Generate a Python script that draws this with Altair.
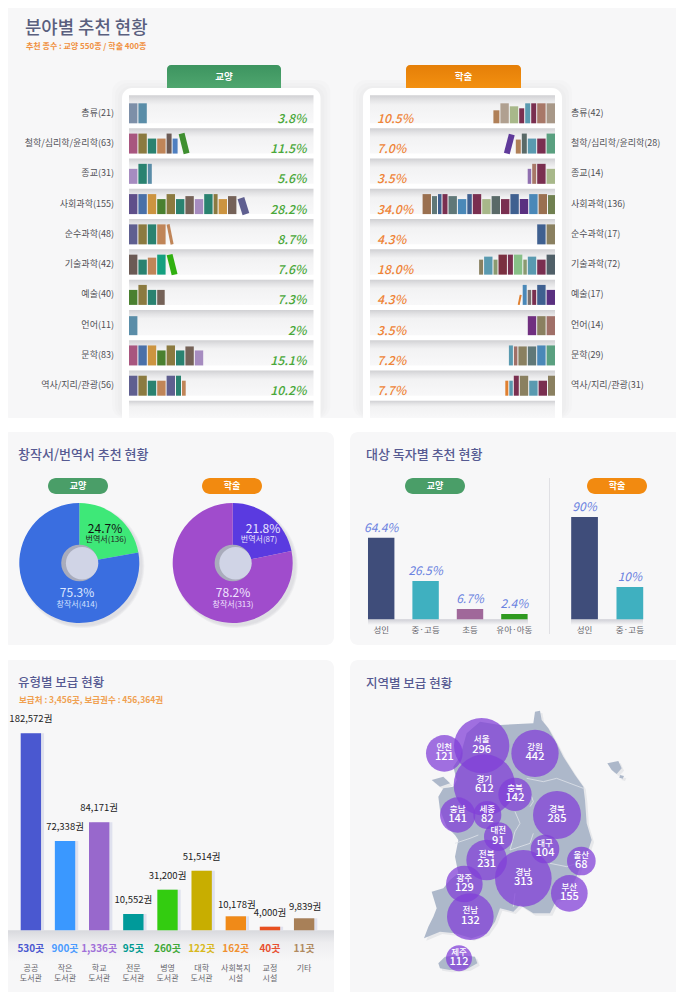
import pandas as pd
import altair as alt

FONT = "Noto Sans CJK KR"
PANEL = "#f7f7f8"
INK = "#4f4f55"
TITLE = "#565a92"
GREEN = "#4a9e68"
ORANGE = "#f28a10"

# book colours
MAUVE = "#a8567f"; SLATE = "#7d8fa8"; STEEL = "#5a8da8"; OLIVE = "#8b7a40"; TEAL = "#2a8270"
CLAY = "#c08558"; UMBER = "#6b5a55"; BLUE = "#4f7fc0"; LILAC = "#a68cc0"; INDIGO = "#5f4f8a"
NAVY = "#4a70a8"; AMBER = "#cc9440"; MOSS = "#4a8030"; TAUPE = "#756258"; DUSK = "#5f5f90"
JADE = "#14a080"; LEAF = "#3f8f30"; LIME = "#30b010"
WINE = "#7a2f50"; SAND = "#b0a090"; SAGE = "#a8b88a"; SKY = "#5a9ab0"; ROSE = "#a87868"
STONE = "#a89888"; TAN = "#b08058"; GRAPE = "#5f3a9a"; ASH = "#5a6a68"; MINT = "#5aa080"
PLUM = "#9070b0"; BARK = "#9a7050"; CADET = "#607878"; OCEAN = "#4a88b8"; DENIM = "#3f6090"
VIOLET = "#5a3080"; FERN = "#708050"; KHAKI = "#8a8060"; RUST = "#e08030"; BRICK = "#7a2f40"
PALE = "#88c088"; DRAB = "#8a9a70"; SMOKE = "#7a7070"; PURPLE = "#702f80"; CLAYPINK = "#a07068"
CHAR = "#506068"

T = 8.4  # usual spine
# (spine, height, colour[, lean]) per shelf, starting from the shelf's outer end
left_books = [
    [(T, 20, SLATE), (T, 20, STEEL)],
    [(T, 20, MAUVE), (T, 20, OLIVE), (T, 15, TEAL), (T, 15, CLAY), (5, 20, UMBER), (5, 15, BLUE), (6, 20, LEAF, 5)],
    [(T, 15, LILAC), (T, 20, TEAL), (4, 20, STEEL)],
    [(T, 20, INDIGO), (T, 20, NAVY), (T, 20, AMBER), (T, 15, MOSS), (T, 20, OLIVE), (T, 15, TEAL), (T, 18, TAUPE),
     (T, 15, LILAC), (T, 20, TEAL), (4, 20, OLIVE), (T, 15, AMBER), (T, 18, TAUPE), (7, 16, DUSK, 5)],
    [(T, 20, DUSK), (T, 20, OLIVE), (T, 20, TEAL), (T, 20, CLAY), (3, 20, CLAY, 4)],
    [(T, 20, UMBER), (T, 15, TEAL), (T, 17, CLAY), (T, 20, JADE), (6, 20, LIME, 5)],
    [(T, 15, MOSS), (T, 20, OLIVE), (T, 15, TEAL), (7.5, 15, TAUPE)],
    [(T, 19, STEEL)],
    [(T, 20, MAUVE), (T, 20, NAVY), (T, 20, AMBER), (T, 15, MOSS), (T, 20, OLIVE), (T, 15, TEAL), (T, 19, TAUPE), (T, 15, LILAC)],
    [(T, 20, DUSK), (T, 20, OLIVE), (T, 15, TEAL), (T, 15, CLAY), (T, 20, DUSK), (5, 20, TEAL), (3.7, 15, CLAY)],
]
right_books = [
    [(T, 20, STONE), (T, 20, ROSE), (5, 20, WINE), (5, 20, SKY), (5, 15, WINE), (T, 17, SAGE), (T, 20, SAND), (6, 13, TAN)],
    [(T, 20, MINT), (T, 15, WINE), (T, 15, SKY), (5, 20, ASH), (5, 14, TAN), (6, 19, GRAPE, 5)],
    [(T, 15, SAGE), (T, 20, WINE), (4, 20, ROSE), (3.5, 15, PLUM)],
    [(7, 19, FERN), (T, 20, BARK), (T, 20, OCEAN), (T, 15, VIOLET), (T, 20, DENIM), (T, 15, WINE), (T, 18, ASH),
     (T, 15, SAGE), (T, 20, WINE), (4.5, 20, DENIM), (T, 15, OCEAN), (T, 18, CADET), (5, 20, WINE), (3.5, 20, DENIM),
     (5, 18, CADET), (T, 20, BARK)],
    [(T, 20, KHAKI), (T, 20, DENIM)],
    [(T, 20, CHAR), (T, 15, WINE), (T, 18, SKY), (3.5, 15, DRAB), (T, 20, PALE), (5, 20, WINE), (T, 20, BRICK),
     (4, 15, DRAB), (T, 18, SKY), (4, 15, KHAKI)],
    [(T, 15, VIOLET), (T, 20, DENIM), (4, 15, WINE), (3.5, 15, SMOKE), (4, 20, OCEAN), (2, 10, RUST, 2)],
    [(T, 19, CLAYPINK), (T, 19, KHAKI), (T, 19, PURPLE)],
    [(T, 20, MINT), (T, 20, OCEAN), (T, 19, CADET), (T, 19, KHAKI), (3.5, 19, CLAYPINK), (4, 20, SKY)],
    [(7, 20, KHAKI), (T, 15, WINE), (T, 15, SKY), (T, 20, KHAKI), (5, 20, WINE), (3.5, 15, SKY), (3, 15, RUST)],
]
left_cats = ["총류(21)", "철학/심리학/윤리학(63)", "종교(31)", "사회과학(155)", "순수과학(48)",
             "기술과학(42)", "예술(40)", "언어(11)", "문학(83)", "역사/지리/관광(56)"]
left_pct = ["3.8%", "11.5%", "5.6%", "28.2%", "8.7%", "7.6%", "7.3%", "2%", "15.1%", "10.2%"]
right_cats = ["총류(42)", "철학/심리학/윤리학(28)", "종교(14)", "사회과학(136)", "순수과학(17)",
              "기술과학(72)", "예술(17)", "언어(14)", "문학(29)", "역사/지리/관광(31)"]
right_pct = ["10.5%", "7.0%", "3.5%", "34.0%", "4.3%", "18.0%", "4.3%", "3.5%", "7.2%", "7.7%"]

# the left pie's slice is drawn narrower than its 24.7% label in the source
pie_left_share = [22.2, 77.8]
pie_left_hue = ["#3ee878", "#3a6ee0"]
pie_right_share = [21.8, 78.2]
pie_right_hue = ["#5a3ae0", "#a04ccc"]

aud_left = ["성인", "중·고등", "초등", "유아·아동"]
aud_left_val = [64.4, 26.5, 6.7, 2.4]
aud_left_txt = ["64.4%", "26.5%", "6.7%", "2.4%"]
aud_left_hue = ["#3f4d7a", "#3fb0c0", "#a0689a", "#2f9a20"]
aud_right = ["성인", "중·고등"]
aud_right_val = [90, 10]
aud_right_txt = ["90%", "10%"]
aud_right_hue = ["#3f4d7a", "#3fb0c0"]

lib_names = ["공공\n도서관", "작은\n도서관", "학교\n도서관", "전문\n도서관", "병영\n도서관",
             "대학\n도서관", "사회복지\n시설", "교정\n시설", "기타"]
lib_books = [182572, 72338, 84171, 10552, 31200, 51514, 10178, 4000, 9839]
lib_sites = ["530곳", "900곳", "1,336곳", "95곳", "260곳", "122곳", "162곳", "40곳", "11곳"]
lib_hue = ["#4a58d0", "#3a98ff", "#9868cc", "#009a9a", "#33cc10", "#c8ae00", "#f08a18", "#e85020", "#a88058"]
lib_site_hue = ["#4a58d0", "#4a9bff", "#a070d8", "#009a90", "#40a838", "#d8b820", "#f09030", "#e85030", "#b08a60"]

regions = ["인천", "서울", "강원", "경기", "충북", "경북", "충남", "세종", "대전", "대구", "전북", "경남", "울산", "광주", "부산", "전남", "제주"]
region_val = [121, 296, 442, 612, 142, 285, 141, 82, 91, 104, 231, 313, 68, 129, 155, 132, 112]
region_cx = [133, 245, 405, 253, 345, 471, 173, 262, 295, 435, 260, 370, 544, 193, 508, 211, 177]
region_cy = [160, 137, 160, 255, 283, 345, 345, 345, 410, 447, 480, 535, 483, 552, 580, 650, 775]
region_r = [55, 83, 71, 92, 50, 72, 53, 42, 43, 43, 61, 85, 43, 55, 55, 70, 39]

mainland = [(300, 75), (400, 70), (405, 35), (420, 32), (425, 60), (445, 85), (470, 130), (490, 170), (525, 225),
            (550, 260), (555, 300), (560, 370), (575, 420), (565, 450), (540, 500), (530, 530), (500, 590), (470, 600),
            (450, 640), (400, 640), (360, 615), (340, 635), (300, 625), (285, 665), (260, 700), (215, 715), (165, 700),
            (120, 695), (72, 715), (85, 680), (100, 650), (110, 625), (95, 575), (130, 565), (150, 540), (175, 520),
            (165, 470), (175, 420), (165, 405), (140, 380), (120, 330), (115, 290), (130, 265), (160, 260), (170, 240),
            (160, 200), (180, 170), (200, 100), (240, 65)]
ganghwa = [(95, 240), (130, 230), (150, 250), (120, 260)]
ulleung = [(622, 190), (655, 183), (665, 205), (650, 222), (635, 210)]
dokdo = [(660, 225), (672, 228), (668, 236), (658, 233)]
jeju = [(115, 790), (135, 770), (180, 765), (225, 770), (232, 790), (205, 805), (150, 810), (120, 805)]
borders = [
    [(380, 235), (430, 245), (470, 235), (510, 250), (550, 265)],
    [(395, 290), (400, 305), (390, 320)],
    [(345, 335), (360, 370), (345, 395), (330, 450), (390, 430), (400, 400)],
    [(450, 490), (500, 500), (530, 490)],
    [(165, 430), (210, 415), (235, 405)],
    [(340, 620), (345, 580)],
]

ONE = pd.DataFrame({"o": [0]})
off = 8  # page margin: everything below is given in page pixels


def grad(*stops):
    return alt.Gradient(gradient="linear", x1=0, y1=0, x2=0, y2=1,
                        stops=[alt.GradientStop(offset=o, color=c) for o, c in stops])


def box(x1, x2, y1, y2, fill, **kw):
    return alt.Chart(ONE).mark_rect(fill=fill, **kw).encode(
        x=alt.value(x1 - off), x2=alt.value(x2 - off), y=alt.value(y1 - off), y2=alt.value(y2 - off))


def label(txt, x, y, size, color, align="left", **kw):
    return alt.Chart(ONE).mark_text(text=txt, fontSize=size, color=color, align=align, baseline="middle", **kw).encode(
        x=alt.value(x - off), y=alt.value(y - off))


def disc(cx, cy, r, fill, opacity=1.0):
    return alt.Chart(ONE).mark_circle(size=4 * r * r, color=fill, opacity=opacity).encode(
        x=alt.value(cx - off), y=alt.value(cy - off))


def pill(x1, x2, y1, y2, fill, txt):
    return [box(x1, x2, y1, y2, fill, cornerRadius=8),
            label(txt, (x1 + x2) / 2, (y1 + y2) / 2, 9, "#ffffff", align="center", fontWeight="bold")]


layers = []

# panels
layers += [box(2, 700, 0, 418, PANEL, cornerRadius=8),
           box(2, 334, 432, 645, PANEL, cornerRadius=8),
           box(350, 700, 432, 645, PANEL, cornerRadius=8),
           box(2, 334, 660, 1010, PANEL, cornerRadius=8),
           box(350, 700, 660, 1010, PANEL, cornerRadius=8)]

# ---- shelves
layers += [label("분야별 추천 현황", 25, 29, 17.8, "#5a5f7e", fontWeight=500),
           label("추천 종수 : 교양 550종 / 학술 400종", 26, 47, 8, "#f09040", fontWeight="bold")]

ROW_Y = alt.Scale(domain=[0, 9], range=[123.3 - off, 395.7 - off])
PITCH = (395.7 - 123.3) / 9
bays = pd.DataFrame({"top": [-0.93] + [i + 5 / PITCH for i in range(10)],
                     "bot": list(range(10)) + [9.74]})
bay_fill = grad((0, "#d0d0d3"), (0.18, "#e4e4e6"), (0.35, "#f2f2f3"), (1, "#f8f8f9"))

for x1, x2 in [(122, 320.5), (363, 562)]:
    layers += [box(x1 - 10 + i * 3, x2 + 10 - i * 3, 80 + i * 3, 418, "#000000", opacity=0.012, cornerRadius=12) for i in range(3)]
    layers.append(box(x1, x2, 88, 418, "#ffffff", cornerRadiusTopLeft=10, cornerRadiusTopRight=10))
    bx = alt.Chart(bays).mark_rect(fill=bay_fill).encode(
        x=alt.value(x1 + 7 - off), x2=alt.value(x2 - 7 - off),
        y=alt.Y("top:Q", scale=ROW_Y, axis=None), y2="bot:Q")
    layers.append(bx)

layers += [box(167, 281, 65, 88, grad((0, "#3d9460"), (1, "#4fa66e")), cornerRadiusTopLeft=4, cornerRadiusTopRight=4),
           label("교양", 224, 76.5, 9.5, "#ffffff", align="center", fontWeight="bold"),
           box(406, 521, 65, 88, grad((0, "#e57f08"), (1, "#f39010")), cornerRadiusTopLeft=4, cornerRadiusTopRight=4),
           label("학술", 463.5, 76.5, 9.5, "#ffffff", align="center", fontWeight="bold")]


def shelf_rows(rows):
    upright, leaning = [], []
    for i, row in enumerate(rows):
        pos = 0
        for b in row:
            if len(b) == 3:
                upright.append({"x0": pos, "x1": pos + b[0], "top": i - b[1] / PITCH, "row": i, "hue": b[2]})
            else:
                mid = pos + b[0] / 2
                leaning.append({"x0": mid, "x1": mid + b[3], "top": i - b[1] / PITCH, "row": i, "hue": b[2], "w": b[0]})
            pos += b[0] + 1
    return pd.DataFrame(upright), pd.DataFrame(leaning)


for rows, x_scale in [(left_books, alt.Scale(domain=[0, 200], range=[129 - off, 329 - off])),
                      (right_books, alt.Scale(domain=[0, 200], range=[555 - off, 355 - off]))]:
    upright, leaning = shelf_rows(rows)
    layers.append(alt.Chart(upright).mark_rect().encode(
        x=alt.X("x0:Q", scale=x_scale, axis=None), x2="x1:Q",
        y=alt.Y("top:Q", scale=ROW_Y, axis=None), y2="row:Q",
        fill=alt.Fill("hue:N", scale=None)))
    layers.append(alt.Chart(leaning).mark_rule().encode(
        x=alt.X("x0:Q", scale=x_scale, axis=None), x2="x1:Q",
        y=alt.Y("top:Q", scale=ROW_Y, axis=None), y2="row:Q",
        color=alt.Color("hue:N", scale=None),
        strokeWidth=alt.StrokeWidth("w:Q", scale=None)))

idx = list(range(10))
layers += [
    alt.Chart(pd.DataFrame({"row": idx, "t": left_cats})).mark_text(align="right", fontSize=9, color=INK, dy=-10.5).encode(
        x=alt.value(114 - off), y=alt.Y("row:Q", scale=ROW_Y, axis=None), text="t:N"),
    alt.Chart(pd.DataFrame({"row": idx, "t": right_cats})).mark_text(align="left", fontSize=9, color=INK, dy=-10.5).encode(
        x=alt.value(571 - off), y=alt.Y("row:Q", scale=ROW_Y, axis=None), text="t:N"),
    alt.Chart(pd.DataFrame({"row": idx, "t": left_pct})).mark_text(align="right", fontSize=12.3, fontStyle="italic", fontWeight=500, color="#4aa83a", dy=-4.5).encode(
        x=alt.value(306.5 - off), y=alt.Y("row:Q", scale=ROW_Y, axis=None), text="t:N"),
    alt.Chart(pd.DataFrame({"row": idx, "t": right_pct})).mark_text(align="left", fontSize=12.3, fontStyle="italic", fontWeight=500, color="#ef8438", dy=-4.5).encode(
        x=alt.value(377 - off), y=alt.Y("row:Q", scale=ROW_Y, axis=None), text="t:N"),
]

# ---- pies
layers.append(label("창작서/번역서 추천 현황", 18, 455, 13, TITLE, fontWeight=500))
layers += pill(48, 108, 478, 494, GREEN, "교양") + pill(202, 262, 478, 494, ORANGE, "학술")

for cx, share, hue, txts in [
    (79.3, pie_left_share, pie_left_hue,
     [("24.7%", 105, 529, 12, "#111111"), ("번역서(136)", 106, 540, 8, "#222222"),
      ("75.3%", 77, 593, 12, "#dbe6ff"), ("창작서(414)", 77, 605, 8, "#d0e0ff")]),
    (232.7, pie_right_share, pie_right_hue,
     [("21.8%", 263, 529, 12, "#e8e4ff"), ("번역서(87)", 259, 540, 8, "#e8e4ff"),
      ("78.2%", 233, 593, 12, "#f0e4ff"), ("창작서(313)", 233, 605, 8, "#f0e4ff")]),
]:
    layers += [disc(cx + 3, 566, r, "#9a9aa5", 0.09) for r in (62, 61, 60)]
    slices = pd.DataFrame({"share": share, "hue": hue, "k": [0, 1]})
    layers.append(alt.Chart(slices).mark_arc(outerRadius=60).encode(
        theta=alt.Theta("share:Q", stack=True, scale=alt.Scale(domain=[0, 100])),
        order=alt.Order("k:Q"),
        fill=alt.Fill("hue:N", scale=None),
        x=alt.value(cx - off), y=alt.value(563 - off)))
    layers += [disc(cx + 0.2, 563, 18.3, "#a9acbc"), disc(cx + 2.8, 563.3, 16.2, "#d0d4e6")]
    layers += [label(t, x, y, s, c, align="center") for t, x, y, s, c in txts]

# ---- audience bars
layers.append(label("대상 독자별 추천 현황", 366, 455, 13, TITLE, fontWeight=500))
layers += pill(405, 465, 478, 494, GREEN, "교양") + pill(587, 647, 478, 494, ORANGE, "학술")
layers.append(box(549, 550, 478, 634, "#e0e0e4"))
base_fill = grad((0, "#cfcfd6"), (1, PANEL))
layers += [box(368, 528, 619.3, 625, base_fill), box(571, 643, 619.3, 625, base_fill)]

for names, vals, txts, hue, x_scale, y_scale in [
    (aud_left, aud_left_val, aud_left_txt, aud_left_hue,
     alt.Scale(domain=aud_left, range=[359 - off, 536.6 - off], paddingInner=0.405, paddingOuter=0.2025),
     alt.Scale(domain=[0, 2.4, 6.7, 26.5, 64.4], range=[619.3 - off, 614 - off, 609 - off, 581 - off, 537.7 - off])),
    (aud_right, aud_right_val, aud_right_txt, aud_right_hue,
     alt.Scale(domain=aud_right, range=[561.9 - off, 652.5 - off], paddingInner=0.41, paddingOuter=0.205),
     alt.Scale(domain=[0, 10, 90], range=[619.3 - off, 587 - off, 517 - off])),
]:
    df = pd.DataFrame({"n": names, "v": vals, "t": txts, "hue": hue})
    layers += [
        alt.Chart(df).mark_bar().encode(
            x=alt.X("n:N", scale=x_scale, axis=None),
            y=alt.Y("v:Q", scale=y_scale, axis=None, stack=None),
            fill=alt.Fill("hue:N", scale=None)),
        alt.Chart(df).mark_text(fontSize=12, fontStyle="italic", color="#6a82e0", dy=-10).encode(
            x=alt.X("n:N", scale=x_scale, axis=None),
            y=alt.Y("v:Q", scale=y_scale, axis=None), text="t:N"),
        alt.Chart(df).mark_text(fontSize=8.5, color="#66666c").encode(
            x=alt.X("n:N", scale=x_scale, axis=None), y=alt.value(630 - off), text="n:N"),
    ]

# ---- library types
layers += [label("유형별 보급 현황", 18, 683, 12.5, TITLE, fontWeight=500),
           label("보급처 : 3,456곳, 보급권수 : 456,364권", 19, 700, 8.5, "#f0a050", fontWeight="bold"),
           box(2, 334, 930.3, 962, grad((0, "#d8d9dd"), (0.4, "#eeeef0"), (1, PANEL)))]

LIB_X = alt.Scale(domain=lib_names, range=[13.8 - off, 321.2 - off], paddingInner=0.404, paddingOuter=0.202)
# the source's bars do not share one linear scale: heights read per bar
LIB_Y = alt.Scale(domain=[0, 4000, 9839, 10178, 10552, 31200, 51514, 72338, 84171, 182572],
                  range=[930.3 - off, 926.7 - off, 918.3 - off, 916.3 - off, 914 - off, 889.7 - off,
                         870.7 - off, 841 - off, 822.3 - off, 733.3 - off])
lib = pd.DataFrame({"n": lib_names, "v": lib_books, "hue": lib_hue, "site": lib_sites, "sh": lib_site_hue})
lib["t"] = [f"{v:,}권" for v in lib_books]
crowded = lib["v"].isin([10178, 9839])
lib_x = alt.X("n:N", scale=LIB_X, axis=None)
lib_y = alt.Y("v:Q", scale=LIB_Y, axis=None, stack=None)
layers += [
    alt.Chart(lib).mark_bar(color="#dfe1ee", xOffset=3).encode(x=lib_x, y=lib_y),
    alt.Chart(lib).mark_bar().encode(x=lib_x, y=lib_y, fill=alt.Fill("hue:N", scale=None)),
    alt.Chart(lib[~crowded]).mark_text(fontSize=9.5, color="#222222", dy=-14).encode(x=lib_x, y=lib_y, text="t:N"),
    alt.Chart(lib[crowded]).mark_text(fontSize=9.5, color="#222222", dy=-11, dx=1).encode(x=lib_x, y=lib_y, text="t:N"),
    alt.Chart(lib).mark_text(fontSize=10, fontWeight="bold").encode(
        x=lib_x, y=alt.value(948.5 - off), text="site:N", color=alt.Color("sh:N", scale=None)),
    alt.Chart(lib).mark_text(fontSize=8, color="#66666c", lineBreak="\n", lineHeight=10.8, baseline="top").encode(
        x=lib_x, y=alt.value(964.5 - off), text="n:N"),
]

# ---- regions
layers.append(label("지역별 보급 현황", 366, 684, 12.5, TITLE, fontWeight=500))


def poly(points):
    ring = [list(p) for p in points] + [list(points[0])]
    return {"type": "Feature", "properties": {}, "geometry": {"type": "Polygon", "coordinates": [ring]}}


def shifted(points, d):
    return [(x + d, y + d) for x, y in points]


# outline points are in 3x-zoom units of the map area
land = [mainland, ganghwa, ulleung, dokdo, jeju]
proj = dict(type="identity", scale=1 / 3, translate=[400 - off, 700 - off])
layers += [
    alt.Chart(alt.Data(values=[poly(shifted(p, 7)) for p in land])).mark_geoshape(fill="#d8d9de", stroke=None, opacity=0.5).project(**proj),
    alt.Chart(alt.Data(values=[poly(p) for p in land])).mark_geoshape(fill="#adb8ca", stroke=None).project(**proj),
    alt.Chart(alt.Data(values=[{"type": "Feature", "properties": {}, "geometry": {"type": "LineString", "coordinates": [list(p) for p in b]}} for b in borders]))
    .mark_geoshape(filled=False, stroke="#dfe3ea", strokeWidth=0.8).project(**proj),
]

MAP_X = alt.Scale(domain=[0, 720], range=[400 - off, 640 - off])
MAP_Y = alt.Scale(domain=[0, 840], range=[700 - off, 980 - off])
bub = pd.DataFrame({"name": regions, "val": region_val, "cx": region_cx, "cy": region_cy})
bub["area"] = [4 * (r / 3) ** 2 for r in region_r]
map_x = alt.X("cx:Q", scale=MAP_X, axis=None)
map_y = alt.Y("cy:Q", scale=MAP_Y, axis=None)
layers += [
    alt.Chart(bub).mark_circle(color="#8140d8", opacity=0.74).encode(
        x=map_x, y=map_y, size=alt.Size("area:Q", scale=None)),
    alt.Chart(bub).mark_text(fontSize=8.5, color="#ffffff", fontWeight=500, dy=-6.5).encode(x=map_x, y=map_y, text="name:N"),
    alt.Chart(bub).mark_text(fontSize=11, color="#ffffff", fontWeight=500, dy=4).encode(x=map_x, y=map_y, text="val:Q"),
]

chart = (
    alt.layer(*layers)
    .resolve_scale(x="independent", y="independent")
    .properties(width=668, height=984, padding=0, autosize=alt.AutoSizeParams(type="none"))
    .configure_view(strokeWidth=0)
    .configure_text(font=FONT)
)

chart.save("out.html", embed_options={"renderer": "svg", "actions": False})
